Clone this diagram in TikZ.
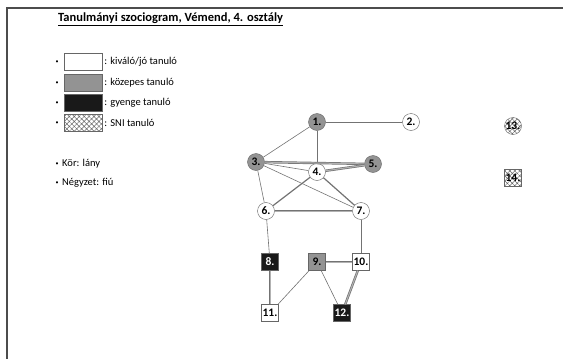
\documentclass[tikz,border=0pt]{standalone}
\usepackage{fontspec}
\setmainfont{Carlito}
\usetikzlibrary{patterns.meta}
\begin{document}
\begin{tikzpicture}[x=1pt,y=-1pt]
    \tikzset{every node/.style={font=\fontsize{10.5}{11}\selectfont},
        girl/.style={circle,draw=gray!80!black,minimum size=17pt,inner sep=0pt,font=\fontsize{11.5}{11}\selectfont\bfseries},
        boy/.style={rectangle,draw=gray!80!black,minimum size=17pt,inner sep=0pt,font=\fontsize{11.5}{11}\selectfont\bfseries},
        good/.style={fill=white},
        mid/.style={fill=gray!85},
        weak/.style={fill=black!90,text=white},
        sni/.style={pattern={Hatch[angle=45,distance=3.5pt,line width=0.5pt]},pattern color=gray!80!black},
        tie/.style={draw=gray!90!black,line width=0.6pt},
        strong/.style={draw=gray!90!black,line width=1.2pt},
        mutual/.style={draw=gray!90!black,double=gray!60,double distance=1pt,line width=0.7pt},
        keybox/.style={rectangle,draw=gray!80!black,minimum width=38pt,minimum height=17pt,inner sep=0pt},
        dot/.style={font=\fontsize{6}{6}\selectfont,inner sep=0pt}}
    \useasboundingbox (0,0) rectangle (563,359);
    % frame
    \draw[gray!60!black,line width=1.5pt] (7,359) -- (7,8) -- (563,8);
    \node[anchor=west,font=\fontsize{12.5}{12}\selectfont\bfseries,inner sep=0pt] (title) at (58,19) {\underline{Tanulmányi szociogram, Vémend, 4. osztály}};
    % legend
    \node[keybox,good] (k1) at (83,62) {};
    \node[keybox,mid] (k2) at (83,83) {};
    \node[keybox,weak] (k3) at (83,103) {};
    \node[keybox,sni] (k4) at (83,123) {};
    \node[anchor=west,inner sep=2pt] (l1) at (k1.east) {: kiváló/jó tanuló};
    \node[anchor=west,inner sep=2pt] (l2) at (k2.east) {: közepes tanuló};
    \node[anchor=west,inner sep=2pt] (l3) at (k3.east) {: gyenge tanuló};
    \node[anchor=west,inner sep=2pt] (l4) at (k4.east) {: SNI tanuló};
    \node[dot] (b1) at (57,62) {\textbullet};
    \node[dot] (b2) at (57,83) {\textbullet};
    \node[dot] (b3) at (57,103) {\textbullet};
    \node[dot] (b4) at (57,123) {\textbullet};
    \node[dot] (b5) at (57,164) {\textbullet};
    \node[dot] (b6) at (57,183) {\textbullet};
    \node[anchor=west,inner sep=0pt] (kor) at (62,164) {Kör: lány};
    \node[anchor=west,inner sep=0pt] (negy) at (62,183) {Négyzet: fiú};
    % students
    \node[girl,mid] (n1) at (317,122) {1.};
    \node[girl,good] (n2) at (411,122) {2.};
    \node[girl,mid] (n3) at (256,162) {3.};
    \node[girl,good] (n4) at (317,172) {4.};
    \node[girl,mid] (n5) at (373,164) {5.};
    \node[girl,good] (n6) at (266,211) {6.};
    \node[girl,good] (n7) at (361,211) {7.};
    \node[boy,weak] (n8) at (270,262) {8.};
    \node[boy,mid] (n9) at (317,262) {9.};
    \node[boy,good] (n10) at (361,262) {10.};
    \node[boy,good] (n11) at (270,313) {11.};
    \node[boy,weak] (n12) at (342,313) {12.};
    \node[girl,sni] (n13) at (513,126) {13.};
    \node[boy,sni] (n14) at (513,178) {14.};
    % choices
    \draw[tie] (n1) -- (n2);
    \draw[tie] (n1) -- (n3);
    \draw[tie] (n1) -- (n4);
    \draw[tie] (n3) -- (n4);
    \draw[tie] (n3) -- (n7);
    \draw[tie] (n3) -- (n6);
    \draw[strong] (n4) -- (n6);
    \draw[strong] (n4) -- (n7);
    \draw[mutual] (n3) -- (n5);
    \draw[mutual] (n4) -- (n5);
    \draw[mutual] (n6) -- (n7);
    \draw[tie] (n6) -- (n8);
    \draw[tie] (n7) -- (n10);
    \draw[mutual] (n8) -- (n11);
    \draw[tie] (n9) -- (n11);
    \draw[mutual] (n9) -- (n10);
    \draw[tie] (n9) -- (n12);
    \draw[mutual] (n10) -- (n12);
\end{tikzpicture}
\end{document}
